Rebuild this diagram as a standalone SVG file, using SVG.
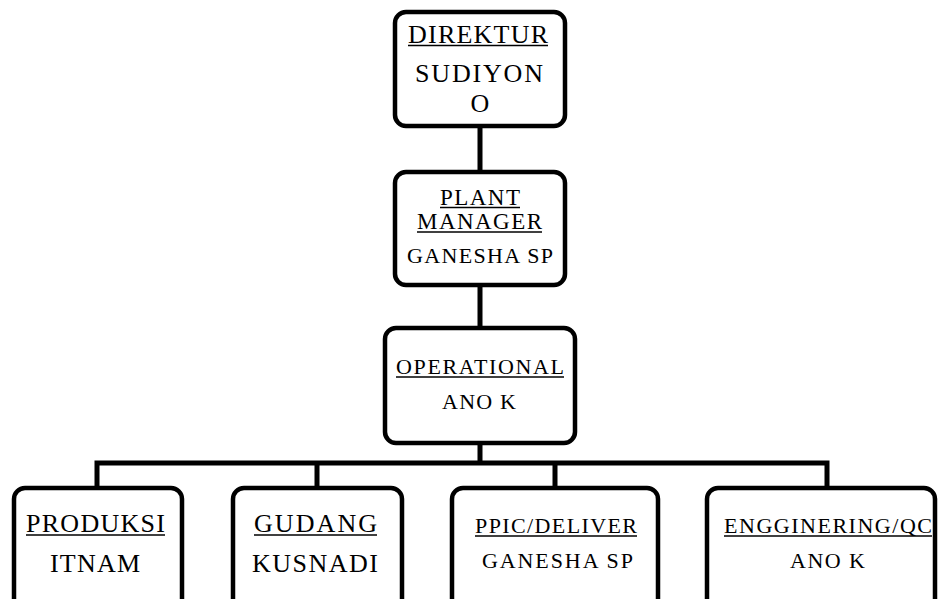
<svg xmlns="http://www.w3.org/2000/svg" width="939" height="599" viewBox="0 0 939 599">
<style>
.box{fill:#fff;stroke:#000;stroke-width:4.5}
.t{font-family:'Liberation Serif','Times New Roman',serif;fill:#000;text-anchor:middle}
.ul{stroke:#000;stroke-width:1.4}
.c{fill:none;stroke:#000;stroke-width:5;stroke-linecap:square}
</style>
<rect width="939" height="599" fill="#fff"/>
<g id="connectors">
<path class="c" d="M480 126V172M480 285V327M480 443V463M97 463H827M97 463V487M317 463V487M555 463V487M827 463V487"/>
</g>
<g id="direktur">
<rect class="box" x="395" y="12" width="170" height="114" rx="11"/>
<text class="t" x="478" y="43" font-size="26" textLength="140" lengthAdjust="spacing">DIREKTUR</text>
<line class="ul" x1="408" y1="45.5" x2="548" y2="45.5"/>
<text class="t" x="479" y="82" font-size="26" textLength="128" lengthAdjust="spacing">SUDIYON</text>
<text class="t" x="480" y="112" font-size="26">O</text>
</g>
<g id="plant-manager">
<rect class="box" x="395" y="172" width="170" height="113" rx="11"/>
<text class="t" x="480" y="205" font-size="23" textLength="80" lengthAdjust="spacing">PLANT</text>
<line class="ul" x1="440" y1="207.5" x2="520" y2="207.5"/>
<text class="t" x="479.5" y="229" font-size="23" textLength="125" lengthAdjust="spacing">MANAGER</text>
<line class="ul" x1="417" y1="232" x2="542" y2="232"/>
<text class="t" x="480" y="263" font-size="22" textLength="146" lengthAdjust="spacing">GANESHA SP</text>
</g>
<g id="operational">
<rect class="box" x="385" y="328" width="190" height="115" rx="11"/>
<text class="t" x="480" y="374" font-size="22" textLength="168" lengthAdjust="spacing">OPERATIONAL</text>
<line class="ul" x1="396" y1="377" x2="564" y2="377"/>
<text class="t" x="479" y="409" font-size="22" textLength="74" lengthAdjust="spacing">ANO K</text>
</g>
<g id="produksi">
<rect class="box" x="14" y="488" width="168" height="122" rx="11"/>
<text class="t" x="95.5" y="532" font-size="26" textLength="139" lengthAdjust="spacing">PRODUKSI</text>
<line class="ul" x1="26" y1="535" x2="165" y2="535"/>
<text class="t" x="95" y="572" font-size="26" textLength="90" lengthAdjust="spacing">ITNAM</text>
</g>
<g id="gudang">
<rect class="box" x="233" y="488" width="169" height="122" rx="11"/>
<text class="t" x="315.5" y="532" font-size="26" textLength="123" lengthAdjust="spacing">GUDANG</text>
<line class="ul" x1="254" y1="535" x2="377" y2="535"/>
<text class="t" x="315" y="572" font-size="26" textLength="126" lengthAdjust="spacing">KUSNADI</text>
</g>
<g id="ppic">
<rect class="box" x="452" y="488" width="206" height="122" rx="11"/>
<text class="t" x="556" y="533" font-size="22" textLength="162" lengthAdjust="spacing">PPIC/DELIVER</text>
<line class="ul" x1="475" y1="536" x2="637" y2="536"/>
<text class="t" x="557.5" y="568" font-size="22" textLength="151" lengthAdjust="spacing">GANESHA SP</text>
</g>
<g id="engginering">
<rect class="box" x="707" y="488" width="228" height="122" rx="11"/>
<text class="t" x="828" y="533" font-size="22" textLength="208" lengthAdjust="spacing">ENGGINERING/QC</text>
<line class="ul" x1="724" y1="536" x2="932" y2="536"/>
<text class="t" x="827.5" y="568" font-size="22" textLength="75" lengthAdjust="spacing">ANO K</text>
</g>
</svg>
